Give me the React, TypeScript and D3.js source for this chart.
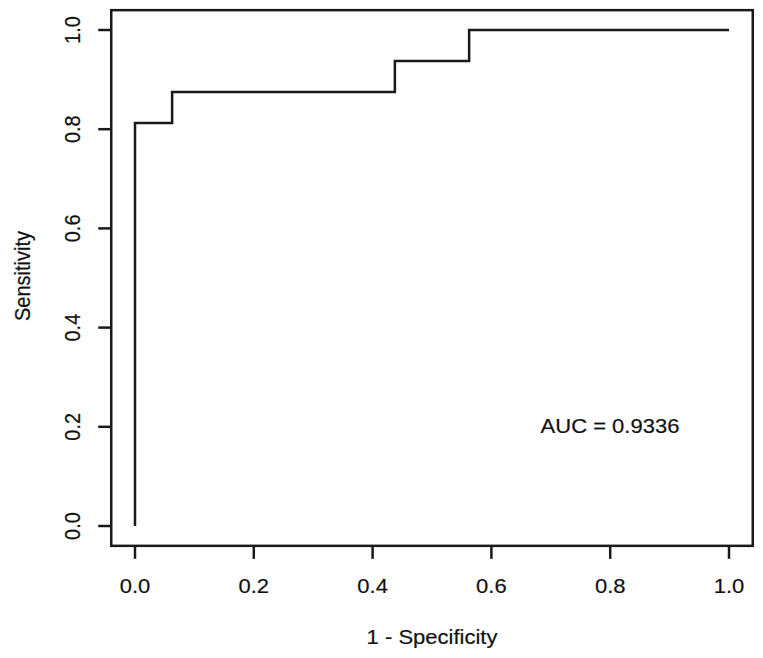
import React from "react";
import * as d3 from "d3";

const fprValues = [0, 0, 0.0625, 0.0625, 0.4375, 0.4375, 0.5625, 0.5625, 1];
const tprValues = [0, 0.8125, 0.8125, 0.875, 0.875, 0.9375, 0.9375, 1, 1];
const xTicks = [0, 0.2, 0.4, 0.6, 0.8, 1.0];
const yTicks = [0, 0.2, 0.4, 0.6, 0.8, 1.0];
const aucLabel = "AUC = 0.9336";
const xLabel = "1 - Specificity";
const yLabel = "Sensitivity";

const W = 763;
const H = 658;
const FONT = "'Liberation Sans', Arial, sans-serif";
const FS = 20;
const SX = 1.1;

function Label({ x, y, rotate, children }: { x: number; y: number; rotate?: boolean; children: React.ReactNode }) {
  return (
    <text
      transform={`translate(${x},${y}) scale(${SX},1)${rotate ? " rotate(-90)" : ""}`}
      textAnchor="middle"
      fontFamily={FONT}
      fontSize={FS}
      fill="#111"
      stroke="#111"
      strokeWidth={0.2}
    >
      {children}
    </text>
  );
}

export default function App() {
  const x = d3.scaleLinear().domain([0, 1]).range([135, 729]);
  const y = d3.scaleLinear().domain([0, 1]).range([526, 30]);
  const boxL = x(-0.04), boxR = x(1.04), boxT = y(1.04), boxB = y(-0.04);
  const pts = fprValues.map((f, i) => [f, tprValues[i]] as [number, number]);
  const line = d3.line<[number, number]>().x(d => x(d[0])).y(d => y(d[1]));
  const stroke = "#1a1a1a";
  const sw = 2.5;
  return (
    <svg width={W} height={H} style={{ position: "absolute", left: 0, top: 0, background: "#fff" }}>
      <rect x={0} y={0} width={W} height={H} fill="#fff" />
      <path d={line(pts) || ""} fill="none" stroke={stroke} strokeWidth={sw} />
      <rect x={boxL} y={boxT} width={boxR - boxL} height={boxB - boxT} fill="none" stroke={stroke} strokeWidth={sw} />
      {xTicks.map(t => (
        <g key={"x" + t}>
          <line x1={x(t)} x2={x(t)} y1={boxB} y2={boxB + 13} stroke={stroke} strokeWidth={sw} />
          <Label x={x(t)} y={593}>{t.toFixed(1)}</Label>
        </g>
      ))}
      {yTicks.map(t => (
        <g key={"y" + t}>
          <line x1={boxL - 13} x2={boxL} y1={y(t)} y2={y(t)} stroke={stroke} strokeWidth={sw} />
          <Label x={80} y={y(t)} rotate>{t.toFixed(1)}</Label>
        </g>
      ))}
      <Label x={x(0.5)} y={644}>{xLabel}</Label>
      <Label x={30} y={276} rotate>{yLabel}</Label>
      <Label x={610} y={433}>{aucLabel}</Label>
    </svg>
  );
}
